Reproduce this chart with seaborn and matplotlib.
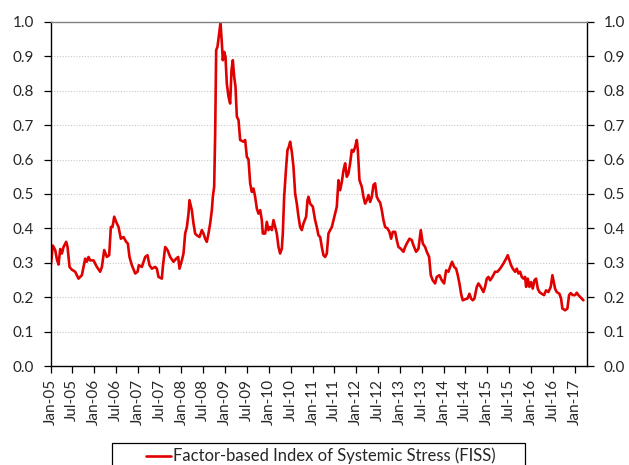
import numpy as np
import pandas as pd
import matplotlib
matplotlib.use("Agg")
import matplotlib.pyplot as plt
import matplotlib.dates as mdates
from matplotlib.ticker import MultipleLocator, FormatStrFormatter
from matplotlib.patches import Rectangle
import seaborn as sns

# years after Jan 2005
t_years = [
    0.008, 0.054, 0.108, 0.146, 0.184, 0.222, 0.26, 0.298, 0.359, 0.39,
    0.435, 0.489, 0.565, 0.641, 0.718, 0.794, 0.832, 0.870, 0.908, 0.985,
    1.061, 1.137, 1.176, 1.229, 1.29, 1.343, 1.381, 1.419, 1.458, 1.503,
    1.557, 1.61, 1.671, 1.732, 1.77, 1.808, 1.862, 1.938, 1.992, 2.022,
    2.091, 2.167, 2.22, 2.266, 2.32, 2.396, 2.434, 2.472, 2.549, 2.571,
    2.625, 2.678, 2.739, 2.815, 2.876, 2.922, 2.953, 3.006, 3.044, 3.082,
    3.121, 3.159, 3.181, 3.235, 3.273, 3.311, 3.349, 3.41, 3.464, 3.502,
    3.54, 3.578, 3.616, 3.654, 3.693, 3.716, 3.746, 3.769, 3.792, 3.822,
    3.86, 3.891, 3.922, 3.944, 3.975, 4.005, 4.036, 4.074, 4.112, 4.143,
    4.173, 4.204, 4.234, 4.265, 4.303, 4.341,
    4.417, 4.455, 4.494, 4.532, 4.57, 4.608, 4.646, 4.684, 4.722, 4.76,
    4.799, 4.837, 4.86, 4.913, 4.951, 4.989, 5.027, 5.066, 5.104, 5.142,
    5.18, 5.218, 5.256, 5.295, 5.317, 5.348, 5.394, 5.424, 5.455, 5.485,
    5.523, 5.561, 5.6, 5.638, 5.676, 5.714, 5.752, 5.79, 5.851, 5.882,
    5.905, 5.943, 6.004, 6.057, 6.095, 6.133, 6.172, 6.21, 6.248, 6.286,
    6.324, 6.362, 6.4, 6.439, 6.477, 6.515, 6.553, 6.591, 6.629, 6.668,
    6.706, 6.744, 6.782, 6.82, 6.858, 6.896, 6.934, 6.973, 7.011, 7.034,
    7.072, 7.125, 7.163, 7.201, 7.24, 7.278, 7.316, 7.354, 7.392, 7.43,
    7.468, 7.506,
    7.545, 7.583, 7.621, 7.659, 7.712, 7.758, 7.796, 7.835, 7.888, 7.926,
    7.964, 8.018, 8.078, 8.117, 8.155, 8.216, 8.269, 8.307, 8.368, 8.422,
    8.475, 8.521, 8.574, 8.613, 8.666, 8.704, 8.75, 8.803, 8.841, 8.902,
    8.956, 9.009, 9.055, 9.108, 9.146, 9.192, 9.238, 9.284, 9.322, 9.36,
    9.398, 9.436, 9.49, 9.543, 9.589, 9.627, 9.665, 9.703, 9.757, 9.795,
    9.848, 9.909, 9.947, 9.986, 10.024, 10.062, 10.115, 10.176, 10.229, 10.291,
    10.367, 10.428, 10.466, 10.504, 10.542, 10.581, 10.634, 10.672, 10.71, 10.748,
    10.787, 10.825, 10.863, 10.886, 10.924, 10.962, 11.0, 11.038, 11.076, 11.114,
    11.153, 11.191, 11.244, 11.297, 11.343, 11.396, 11.45, 11.488, 11.511, 11.549,
    11.587, 11.648, 11.686, 11.717, 11.778, 11.831, 11.869, 11.908, 11.953, 12.007,
    12.045, 12.083, 12.121, 12.175, 12.198,
]

fiss = [
    0.293, 0.35, 0.337, 0.31, 0.295, 0.34, 0.327, 0.346, 0.361, 0.346,
    0.288, 0.28, 0.274, 0.254, 0.264, 0.312, 0.303, 0.317, 0.307, 0.307,
    0.288, 0.274, 0.288, 0.337, 0.317, 0.322, 0.404, 0.404, 0.434, 0.419,
    0.404, 0.37, 0.375, 0.361, 0.356, 0.317, 0.293, 0.269, 0.274, 0.293,
    0.288, 0.317, 0.322, 0.293, 0.283, 0.288, 0.283, 0.259, 0.254, 0.288,
    0.346, 0.337, 0.317, 0.303, 0.312, 0.317, 0.283, 0.307, 0.327, 0.385,
    0.404, 0.443, 0.482, 0.453, 0.414, 0.385, 0.38, 0.375, 0.395, 0.385,
    0.37, 0.361, 0.385, 0.414, 0.453, 0.492, 0.521, 0.676, 0.918, 0.928,
    0.967, 0.998, 0.938, 0.889, 0.913, 0.899, 0.82, 0.783, 0.763, 0.86,
    0.889, 0.841, 0.812, 0.725, 0.715, 0.657,
    0.652, 0.657, 0.608, 0.6, 0.531, 0.506, 0.516, 0.492, 0.458, 0.443,
    0.453, 0.424, 0.385, 0.385, 0.419, 0.395, 0.404, 0.395, 0.424, 0.404,
    0.385, 0.346, 0.327, 0.341, 0.385, 0.492, 0.579, 0.628, 0.637, 0.652,
    0.623, 0.579, 0.501, 0.472, 0.434, 0.404, 0.395, 0.414, 0.434, 0.482,
    0.492, 0.472, 0.463, 0.424, 0.404, 0.38, 0.375, 0.346, 0.322, 0.317,
    0.327, 0.385, 0.395, 0.404, 0.424, 0.443, 0.463, 0.54, 0.511, 0.535,
    0.569, 0.589, 0.55, 0.56, 0.589, 0.628, 0.623, 0.637, 0.657, 0.628,
    0.54, 0.521, 0.492, 0.472, 0.482, 0.497, 0.477, 0.492, 0.526, 0.531,
    0.492, 0.482,
    0.475, 0.453, 0.424, 0.404, 0.4, 0.39, 0.37, 0.39, 0.39, 0.366,
    0.346, 0.341, 0.332, 0.346, 0.356, 0.37, 0.366, 0.351, 0.332, 0.341,
    0.395, 0.356, 0.346, 0.332, 0.317, 0.264, 0.249, 0.24, 0.259, 0.264,
    0.249, 0.24, 0.278, 0.274, 0.288, 0.303, 0.288, 0.283, 0.264, 0.24,
    0.21, 0.191, 0.194, 0.196, 0.21, 0.196, 0.191, 0.196, 0.23, 0.24,
    0.23, 0.215, 0.23, 0.254, 0.259, 0.249, 0.259, 0.274, 0.274, 0.283,
    0.298, 0.312, 0.322, 0.307, 0.293, 0.283, 0.274, 0.283, 0.269, 0.274,
    0.259, 0.254, 0.259, 0.23, 0.254, 0.23, 0.244, 0.225, 0.249, 0.254,
    0.225, 0.215, 0.21, 0.206, 0.22, 0.215, 0.23, 0.264, 0.249, 0.225,
    0.215, 0.21, 0.196, 0.167, 0.162, 0.167, 0.206, 0.212, 0.206, 0.206,
    0.213, 0.206, 0.201, 0.194, 0.191,
]

start = pd.Timestamp("2005-01-01")
df = pd.DataFrame({
    "date": start + pd.to_timedelta(np.array(t_years) * 365.25, unit="D"),
    "fiss": fiss,
})

sns.set_style("white")
plt.rcParams["font.family"] = ["Lato", "DejaVu Sans"]

fig = plt.figure(figsize=(6.29, 4.65), dpi=100)
ax = fig.add_axes([0.0803, 0.2129, 0.8527, 0.7398])

red = "#E00000"
sns.lineplot(data=df, x="date", y="fiss", ax=ax, color=red, linewidth=1.9,
             legend=False)

ax.set_xlim(start, pd.Timestamp("2017-04-12"))
ax.set_ylim(0, 1)
ax.set_xlabel("")
ax.set_ylabel("")

ax.xaxis.set_major_locator(mdates.MonthLocator(bymonth=[1, 7]))
ax.xaxis.set_major_formatter(mdates.DateFormatter("%b-%y"))
ax.yaxis.set_major_locator(MultipleLocator(0.1))
ax.yaxis.set_major_formatter(FormatStrFormatter("%.1f"))

ax.tick_params(axis="x", direction="out", length=5, width=0.9, color="black",
               labelsize=11, labelrotation=90, pad=4, bottom=True)
ax.tick_params(axis="y", direction="out", length=5, width=0.9, color="black",
               labelsize=11, left=True, right=True,
               labelleft=True, labelright=True, pad=7)

for gy in np.arange(0.1, 1.0, 0.1):
    ax.axhline(gy, color="#c8c8c8", linestyle=(0, (1, 1.5)), linewidth=0.8,
               zorder=0)

for side in ["left", "bottom", "right"]:
    ax.spines[side].set_color("black")
    ax.spines[side].set_linewidth(1.0)
ax.spines["top"].set_color("#808080")
ax.spines["top"].set_linewidth(1.0)

# legend box below the chart (cut by the figure edge like the original)
box = Rectangle((0.178, -0.05), 0.657, 0.097, transform=fig.transFigure,
                fill=False, edgecolor="black", linewidth=0.9)
fig.patches.append(box)
handle = ax.get_lines()[0]
fig.legend([handle], ["Factor-based Index of Systemic Stress (FISS)"],
           loc="center", bbox_to_anchor=(0.51, 0.019), frameon=False,
           fontsize=12, handlelength=1.5, handletextpad=0.1,
           borderpad=0)

fig.savefig("out.png", dpi=100)
